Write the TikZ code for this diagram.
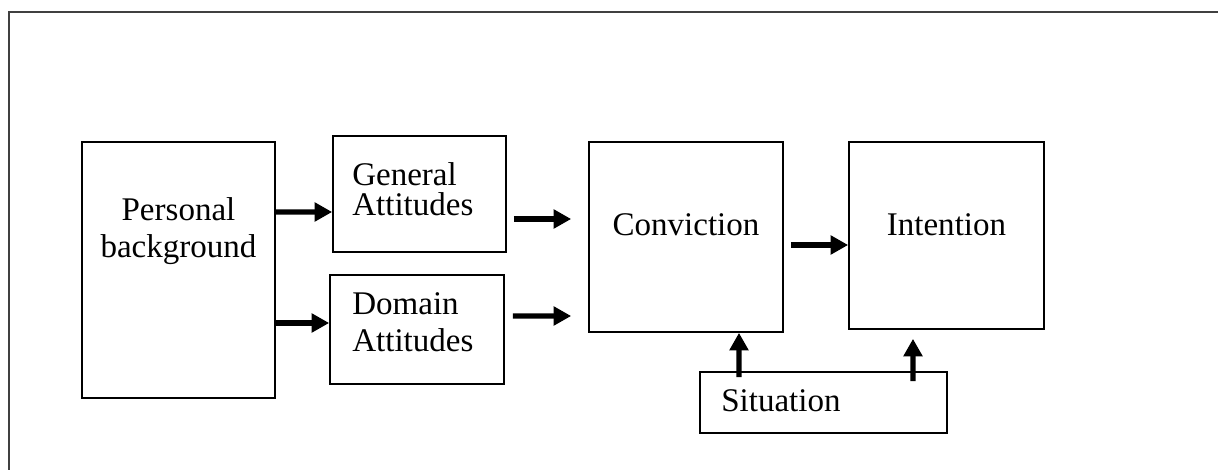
\documentclass[tikz,border=0pt]{standalone}
\usepackage{fontspec}
\setmainfont{Liberation Serif}
\usetikzlibrary{arrows.meta}

\begin{document}
\begin{tikzpicture}[align=center,
    box/.style={draw,line width=1.2pt,inner sep=0pt},
    txt/.style={font=\fontsize{23.5}{27}\selectfont,inner sep=0pt},
    flow/.style={line width=0.13cm,-{Triangle[length=0.44cm,width=0.46cm]}}]

\useasboundingbox (0,0) rectangle (30.45,11.75);
\draw[line width=1.4pt,black!75] (0.225,0) -- (0.225,11.45) -- (30.45,11.45);

\node[box,minimum width=4.825cm,minimum height=6.4cm] (pers) at (4.4625,5) {};
\node[box,minimum width=4.325cm,minimum height=2.9cm] (gen) at (10.4875,6.9) {};
\node[box,minimum width=4.35cm,minimum height=2.725cm] (dom) at (10.425,3.5125) {};
\node[box,minimum width=4.85cm,minimum height=4.75cm] (conv) at (17.15,5.825) {};
\node[box,minimum width=4.875cm,minimum height=4.675cm] (inten) at (23.6625,5.8625) {};
\node[box,minimum width=6.175cm,minimum height=1.525cm] (sit) at (20.5875,1.6875) {};

\node[txt,anchor=base] (perstxt) at (4.4625,5.3) {Personal\\background};
\node[txt,anchor=base west,align=left] (gentxt) at (8.8,6.35) {General\\[-5pt]Attitudes};
\node[txt,anchor=base west,align=left] (domtxt) at (8.8,2.95) {Domain\\Attitudes};
\node[txt,anchor=base] (convtxt) at (17.15,5.85) {Conviction};
\node[txt,anchor=base] (intentxt) at (23.6625,5.85) {Intention};
\node[txt,anchor=base west] (sittxt) at (18.025,1.45) {Situation};

\draw[flow] ([yshift=1.45cm]pers.east) -- ([yshift=-0.45cm]gen.west);
\draw[flow] ([yshift=-1.325cm]pers.east) -- ([yshift=0.1625cm]dom.west);
\draw[flow,shorten <=0.175cm,shorten >=0.425cm] ([yshift=-0.625cm]gen.east) -- ([yshift=0.45cm]conv.west);
\draw[flow,shorten <=0.2cm,shorten >=0.425cm] ([yshift=0.3375cm]dom.east) -- ([yshift=-1.975cm]conv.west);
\draw[flow,shorten <=0.175cm] ([yshift=-0.2cm]conv.east) -- ([yshift=-0.2375cm]inten.west);
\draw[flow,shorten <=-0.15cm] ([xshift=-2.1125cm]sit.north) -- ([xshift=1.325cm]conv.south);
\draw[flow,shorten <=-0.25cm,shorten >=0.225cm] ([xshift=2.2375cm]sit.north) -- ([xshift=-0.8375cm]inten.south);

\end{tikzpicture}
\end{document}
